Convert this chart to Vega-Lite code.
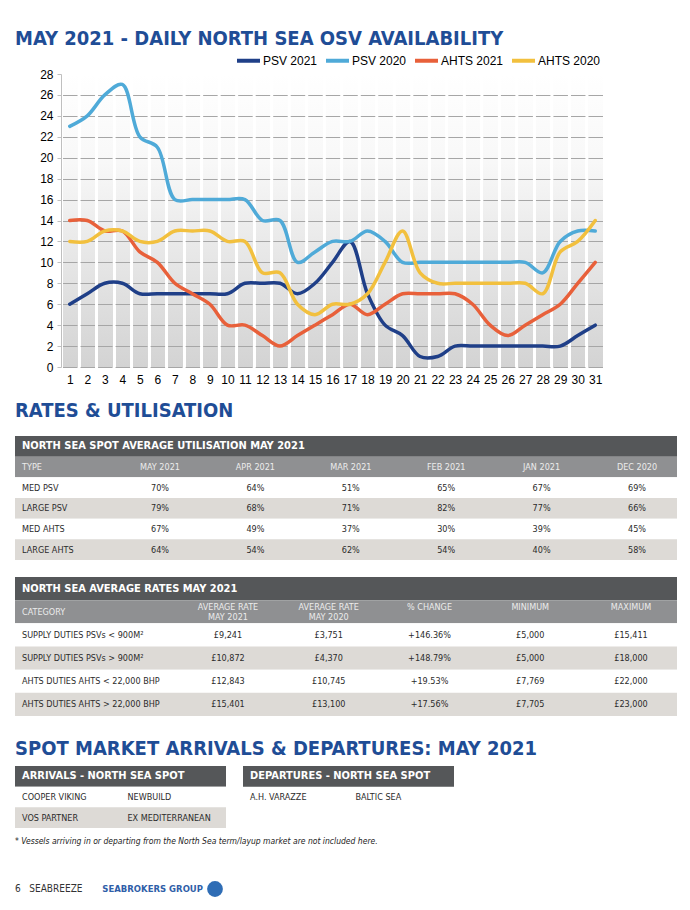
{
  "$schema": "https://vega.github.io/schema/vega-lite/v6.json",
  "background": "#ffffff",
  "padding": {"left": 15, "top": 29, "right": 0, "bottom": 0},
  "spacing": 16,
  "config": {"view": {"stroke": null}},
  "resolve": {"scale": {"x": "independent", "y": "independent", "color": "independent"}},
  "datasets": {
    "osv": [
      {"day":1,"series":"PSV 2021","value":6},{"day":2,"series":"PSV 2021","value":7},{"day":3,"series":"PSV 2021","value":8},{"day":4,"series":"PSV 2021","value":8},{"day":5,"series":"PSV 2021","value":7},{"day":6,"series":"PSV 2021","value":7},{"day":7,"series":"PSV 2021","value":7},{"day":8,"series":"PSV 2021","value":7},{"day":9,"series":"PSV 2021","value":7},{"day":10,"series":"PSV 2021","value":7},{"day":11,"series":"PSV 2021","value":8},{"day":12,"series":"PSV 2021","value":8},{"day":13,"series":"PSV 2021","value":8},{"day":14,"series":"PSV 2021","value":7},{"day":15,"series":"PSV 2021","value":8},{"day":16,"series":"PSV 2021","value":10},{"day":17,"series":"PSV 2021","value":12},{"day":18,"series":"PSV 2021","value":7},{"day":19,"series":"PSV 2021","value":4},{"day":20,"series":"PSV 2021","value":3},{"day":21,"series":"PSV 2021","value":1},{"day":22,"series":"PSV 2021","value":1},{"day":23,"series":"PSV 2021","value":2},{"day":24,"series":"PSV 2021","value":2},{"day":25,"series":"PSV 2021","value":2},{"day":26,"series":"PSV 2021","value":2},{"day":27,"series":"PSV 2021","value":2},{"day":28,"series":"PSV 2021","value":2},{"day":29,"series":"PSV 2021","value":2},{"day":30,"series":"PSV 2021","value":3},{"day":31,"series":"PSV 2021","value":4},
      {"day":1,"series":"PSV 2020","value":23},{"day":2,"series":"PSV 2020","value":24},{"day":3,"series":"PSV 2020","value":26},{"day":4,"series":"PSV 2020","value":27},{"day":5,"series":"PSV 2020","value":22},{"day":6,"series":"PSV 2020","value":21},{"day":7,"series":"PSV 2020","value":16},{"day":8,"series":"PSV 2020","value":16},{"day":9,"series":"PSV 2020","value":16},{"day":10,"series":"PSV 2020","value":16},{"day":11,"series":"PSV 2020","value":16},{"day":12,"series":"PSV 2020","value":14},{"day":13,"series":"PSV 2020","value":14},{"day":14,"series":"PSV 2020","value":10},{"day":15,"series":"PSV 2020","value":11},{"day":16,"series":"PSV 2020","value":12},{"day":17,"series":"PSV 2020","value":12},{"day":18,"series":"PSV 2020","value":13},{"day":19,"series":"PSV 2020","value":12},{"day":20,"series":"PSV 2020","value":10},{"day":21,"series":"PSV 2020","value":10},{"day":22,"series":"PSV 2020","value":10},{"day":23,"series":"PSV 2020","value":10},{"day":24,"series":"PSV 2020","value":10},{"day":25,"series":"PSV 2020","value":10},{"day":26,"series":"PSV 2020","value":10},{"day":27,"series":"PSV 2020","value":10},{"day":28,"series":"PSV 2020","value":9},{"day":29,"series":"PSV 2020","value":12},{"day":30,"series":"PSV 2020","value":13},{"day":31,"series":"PSV 2020","value":13},
      {"day":1,"series":"AHTS 2021","value":14},{"day":2,"series":"AHTS 2021","value":14},{"day":3,"series":"AHTS 2021","value":13},{"day":4,"series":"AHTS 2021","value":13},{"day":5,"series":"AHTS 2021","value":11},{"day":6,"series":"AHTS 2021","value":10},{"day":7,"series":"AHTS 2021","value":8},{"day":8,"series":"AHTS 2021","value":7},{"day":9,"series":"AHTS 2021","value":6},{"day":10,"series":"AHTS 2021","value":4},{"day":11,"series":"AHTS 2021","value":4},{"day":12,"series":"AHTS 2021","value":3},{"day":13,"series":"AHTS 2021","value":2},{"day":14,"series":"AHTS 2021","value":3},{"day":15,"series":"AHTS 2021","value":4},{"day":16,"series":"AHTS 2021","value":5},{"day":17,"series":"AHTS 2021","value":6},{"day":18,"series":"AHTS 2021","value":5},{"day":19,"series":"AHTS 2021","value":6},{"day":20,"series":"AHTS 2021","value":7},{"day":21,"series":"AHTS 2021","value":7},{"day":22,"series":"AHTS 2021","value":7},{"day":23,"series":"AHTS 2021","value":7},{"day":24,"series":"AHTS 2021","value":6},{"day":25,"series":"AHTS 2021","value":4},{"day":26,"series":"AHTS 2021","value":3},{"day":27,"series":"AHTS 2021","value":4},{"day":28,"series":"AHTS 2021","value":5},{"day":29,"series":"AHTS 2021","value":6},{"day":30,"series":"AHTS 2021","value":8},{"day":31,"series":"AHTS 2021","value":10},
      {"day":1,"series":"AHTS 2020","value":12},{"day":2,"series":"AHTS 2020","value":12},{"day":3,"series":"AHTS 2020","value":13},{"day":4,"series":"AHTS 2020","value":13},{"day":5,"series":"AHTS 2020","value":12},{"day":6,"series":"AHTS 2020","value":12},{"day":7,"series":"AHTS 2020","value":13},{"day":8,"series":"AHTS 2020","value":13},{"day":9,"series":"AHTS 2020","value":13},{"day":10,"series":"AHTS 2020","value":12},{"day":11,"series":"AHTS 2020","value":12},{"day":12,"series":"AHTS 2020","value":9},{"day":13,"series":"AHTS 2020","value":9},{"day":14,"series":"AHTS 2020","value":6},{"day":15,"series":"AHTS 2020","value":5},{"day":16,"series":"AHTS 2020","value":6},{"day":17,"series":"AHTS 2020","value":6},{"day":18,"series":"AHTS 2020","value":7},{"day":19,"series":"AHTS 2020","value":10},{"day":20,"series":"AHTS 2020","value":13},{"day":21,"series":"AHTS 2020","value":9},{"day":22,"series":"AHTS 2020","value":8},{"day":23,"series":"AHTS 2020","value":8},{"day":24,"series":"AHTS 2020","value":8},{"day":25,"series":"AHTS 2020","value":8},{"day":26,"series":"AHTS 2020","value":8},{"day":27,"series":"AHTS 2020","value":8},{"day":28,"series":"AHTS 2020","value":7},{"day":29,"series":"AHTS 2020","value":11},{"day":30,"series":"AHTS 2020","value":12},{"day":31,"series":"AHTS 2020","value":14}
    ],
    "util": [
      {"row":"title","type":"NORTH SEA SPOT AVERAGE UTILISATION MAY 2021"},
      {"row":"header","type":"TYPE","may21":"MAY 2021","apr21":"APR 2021","mar21":"MAR 2021","feb21":"FEB 2021","jan21":"JAN 2021","dec20":"DEC 2020"},
      {"row":"r1","type":"MED PSV","may21":"70%","apr21":"64%","mar21":"51%","feb21":"65%","jan21":"67%","dec20":"69%"},
      {"row":"r2","type":"LARGE PSV","may21":"79%","apr21":"68%","mar21":"71%","feb21":"82%","jan21":"77%","dec20":"66%"},
      {"row":"r3","type":"MED AHTS","may21":"67%","apr21":"49%","mar21":"37%","feb21":"30%","jan21":"39%","dec20":"45%"},
      {"row":"r4","type":"LARGE AHTS","may21":"64%","apr21":"54%","mar21":"62%","feb21":"54%","jan21":"40%","dec20":"58%"}
    ],
    "rates": [
      {"row":"title","category":"NORTH SEA AVERAGE RATES MAY 2021"},
      {"row":"header","category":"CATEGORY","avg21":"AVERAGE RATE\nMAY 2021","avg20":"AVERAGE RATE\nMAY 2020","change":"% CHANGE","minimum":"MINIMUM","maximum":"MAXIMUM"},
      {"row":"r1","category":"SUPPLY DUTIES PSVs < 900M²","avg21":"£9,241","avg20":"£3,751","change":"+146.36%","minimum":"£5,000","maximum":"£15,411"},
      {"row":"r2","category":"SUPPLY DUTIES PSVs > 900M²","avg21":"£10,872","avg20":"£4,370","change":"+148.79%","minimum":"£5,000","maximum":"£18,000"},
      {"row":"r3","category":"AHTS DUTIES AHTS < 22,000 BHP","avg21":"£12,843","avg20":"£10,745","change":"+19.53%","minimum":"£7,769","maximum":"£22,000"},
      {"row":"r4","category":"AHTS DUTIES AHTS > 22,000 BHP","avg21":"£15,401","avg20":"£13,100","change":"+17.56%","minimum":"£7,705","maximum":"£23,000"}
    ],
    "arrivals": [
      {"row":"title","vessel":"ARRIVALS - NORTH SEA SPOT"},
      {"row":"r1","vessel":"COOPER VIKING","note":"NEWBUILD"},
      {"row":"r2","vessel":"VOS PARTNER","note":"EX MEDITERRANEAN"}
    ],
    "departures": [
      {"row":"title","vessel":"DEPARTURES - NORTH SEA SPOT"},
      {"row":"r1","vessel":"A.H. VARAZZE","note":"BALTIC SEA"}
    ],
    "footer": [
      {"part":"page","label":"6\u00a0\u00a0\u00a0SEABREEZE"},
      {"part":"logo","label":"SEABROKERS GROUP"}
    ]
  },
  "vconcat": [
    {
      "title": {"text": "MAY 2021 - DAILY NORTH SEA OSV AVAILABILITY", "anchor": "start", "font": "DejaVu Sans Condensed, Liberation Sans Narrow, sans-serif", "fontSize": 20, "fontWeight": "bold", "color": "#1f4d96", "offset": -2},
      "spacing": 10,
      "hconcat": [
        {
          "width": 14,
          "height": 293,
          "data": {"values": [{}]},
          "mark": {"type": "rect", "opacity": 0},
          "encoding": {}
        },
        {
          "width": 543,
          "height": 293,
          "view": {"stroke": null, "fill": {"gradient": "linear", "x1": 0, "y1": 0, "x2": 0, "y2": 1, "stops": [{"offset": 0, "color": "#ffffff"}, {"offset": 0.3, "color": "#f8f8f8"}, {"offset": 1, "color": "#d3d3d3"}]}},
          "data": {"name": "osv"},
          "mark": {"type": "line", "interpolate": "catmull-rom", "strokeWidth": 3.5, "strokeCap": "round", "strokeJoin": "round"},
          "encoding": {
            "x": {"field": "day", "type": "ordinal", "scale": {"type": "band", "paddingInner": 0, "paddingOuter": 0},
                  "axis": {"title": null, "labelAngle": 0, "tickBand": "extent", "ticks": false, "domain": false, "grid": true, "gridColor": "#ffffff", "gridWidth": 3, "gridOpacity": 1, "labelPadding": 7, "labelFont": "Liberation Sans", "labelFontSize": 12, "labelColor": "#000000"}},
            "y": {"field": "value", "type": "quantitative", "scale": {"domain": [0, 28], "nice": false},
                  "axis": {"title": null, "values": [0,2,4,6,8,10,12,14,16,18,20,22,24,26,28], "grid": true, "gridColor": "#a6a6a6", "gridWidth": 1, "gridOpacity": {"condition": {"test": "datum.value == 28", "value": 0}, "value": 1}, "gridDash": [14.5, 3.016], "gridDashOffset": 16, "domain": true, "domainColor": "#bfbfbf", "ticks": true, "tickSize": 4, "tickColor": "#bfbfbf", "labelPadding": 4, "labelFont": "Liberation Sans", "labelFontSize": 12, "labelColor": "#000000"}},
            "color": {"field": "series", "type": "nominal",
                      "scale": {"domain": ["PSV 2021", "PSV 2020", "AHTS 2021", "AHTS 2020"], "range": ["#1f3f88", "#4faad8", "#e8603a", "#f2c03e"]},
                      "legend": {"orient": "none", "legendX": 220, "legendY": -27, "direction": "horizontal", "title": null, "symbolType": "stroke", "symbolStrokeWidth": 4, "symbolSize": 529, "labelFont": "Liberation Sans", "labelFontSize": 12, "labelColor": "#000000", "columnPadding": 0, "labelOffset": 1}}
          }
        }
      ]
    },
    {
      "width": 662,
      "height": 124,
      "title": {"text": "RATES & UTILISATION", "anchor": "start", "font": "DejaVu Sans Condensed, Liberation Sans Narrow, sans-serif", "fontSize": 20, "fontWeight": "bold", "color": "#1f4d96", "offset": 15},
      "data": {"name": "util"},
      "transform": [{"fold": ["type", "may21", "apr21", "mar21", "feb21", "jan21", "dec20"], "as": ["col", "v"]}, {"filter": "isValid(datum.v)"}],
      "encoding": {
        "y": {"field": "row", "type": "nominal", "scale": {"domain": ["title", "header", "r1", "r2", "r3", "r4"], "paddingInner": 0, "paddingOuter": 0}, "axis": null}
      },
      "layer": [
        {"transform": [{"filter": "datum.col == 'type'"}], "mark": {"type": "rect"},
         "encoding": {"color": {"condition": [{"test": "datum.row == 'title'", "value": "#555759"}, {"test": "datum.row == 'header'", "value": "#8f9092"}, {"test": "datum.row == 'r2' || datum.row == 'r4'", "value": "#dddad6"}], "value": "#ffffff"}}},
        {"transform": [{"filter": "datum.row == 'title'"}], "mark": {"type": "text", "align": "left", "dx": -42.6, "font": "DejaVu Sans Condensed, Liberation Sans Narrow, sans-serif", "fontSize": 11, "fontWeight": "bold", "color": "#ffffff"},
         "encoding": {"x": {"field": "col", "type": "nominal", "scale": {"type": "point", "domain": ["type", "may21", "apr21", "mar21", "feb21", "jan21", "dec20"], "padding": 0.4696, "align": 0.5536}, "axis": null}, "text": {"field": "v"}}},
        {"transform": [{"filter": "datum.row != 'title' && datum.col == 'type'"}], "mark": {"type": "text", "align": "left", "dx": -42.6, "font": "DejaVu Sans Condensed, Liberation Sans Narrow, sans-serif", "fontSize": 9},
         "encoding": {"x": {"field": "col", "type": "nominal", "scale": {"type": "point", "domain": ["type", "may21", "apr21", "mar21", "feb21", "jan21", "dec20"], "padding": 0.4696, "align": 0.5536}, "axis": null}, "text": {"field": "v"},
                      "color": {"condition": {"test": "datum.row == 'header'", "value": "#ececec"}, "value": "#2b2b2b"}}},
        {"transform": [{"filter": "datum.col != 'type'"}], "mark": {"type": "text", "font": "DejaVu Sans Condensed, Liberation Sans Narrow, sans-serif", "fontSize": 9},
         "encoding": {"x": {"field": "col", "type": "nominal", "scale": {"type": "point", "domain": ["type", "may21", "apr21", "mar21", "feb21", "jan21", "dec20"], "padding": 0.4696, "align": 0.5536}, "axis": null}, "text": {"field": "v"},
                      "color": {"condition": {"test": "datum.row == 'header'", "value": "#ececec"}, "value": "#2b2b2b"}}}
      ]
    },
    {
      "width": 662,
      "height": 146,
      "data": {"name": "rates"},
      "transform": [{"fold": ["category", "avg21", "avg20", "change", "minimum", "maximum"], "as": ["col", "v"]}, {"filter": "isValid(datum.v)"}],
      "encoding": {
        "y": {"field": "row", "type": "nominal", "scale": {"type": "band", "domain": ["title", "header", "r1", "r2", "r3", "r4"], "paddingInner": 0, "paddingOuter": 0.151, "align": 0}, "axis": null}
      },
      "layer": [
        {"transform": [{"filter": "datum.col == 'category'"}], "mark": {"type": "rect"},
         "encoding": {"color": {"condition": [{"test": "datum.row == 'title'", "value": "#555759"}, {"test": "datum.row == 'header'", "value": "#8f9092"}, {"test": "datum.row == 'r2' || datum.row == 'r4'", "value": "#dddad6"}], "value": "#ffffff"}}},
        {"transform": [{"filter": "datum.row == 'title'"}], "mark": {"type": "text", "align": "left", "dx": -105.25, "font": "DejaVu Sans Condensed, Liberation Sans Narrow, sans-serif", "fontSize": 11, "fontWeight": "bold", "color": "#ffffff"},
         "encoding": {"x": {"field": "col", "type": "nominal", "scale": {"type": "point", "domain": ["category", "avg21", "avg20", "change", "minimum", "maximum"], "padding": 0.7854, "align": 0.7093}, "axis": null}, "text": {"field": "v"}}},
        {"transform": [{"filter": "datum.row != 'title' && datum.col == 'category'"}], "mark": {"type": "text", "align": "left", "dx": -105.25, "font": "DejaVu Sans Condensed, Liberation Sans Narrow, sans-serif", "fontSize": 9},
         "encoding": {"x": {"field": "col", "type": "nominal", "scale": {"type": "point", "domain": ["category", "avg21", "avg20", "change", "minimum", "maximum"], "padding": 0.7854, "align": 0.7093}, "axis": null}, "text": {"field": "v"},
                      "color": {"condition": {"test": "datum.row == 'header'", "value": "#ececec"}, "value": "#2b2b2b"}}},
        {"transform": [{"filter": "datum.row == 'header' && datum.col != 'category'"}], "mark": {"type": "text", "font": "DejaVu Sans Condensed, Liberation Sans Narrow, sans-serif", "fontSize": 9, "lineBreak": "\n", "lineHeight": 10.5, "dy": -5, "color": "#ececec"},
         "encoding": {"x": {"field": "col", "type": "nominal", "scale": {"type": "point", "domain": ["category", "avg21", "avg20", "change", "minimum", "maximum"], "padding": 0.7854, "align": 0.7093}, "axis": null}, "text": {"field": "v"}}},
        {"transform": [{"filter": "datum.row != 'header' && datum.row != 'title' && datum.col != 'category'"}], "mark": {"type": "text", "font": "DejaVu Sans Condensed, Liberation Sans Narrow, sans-serif", "fontSize": 9, "color": "#2b2b2b"},
         "encoding": {"x": {"field": "col", "type": "nominal", "scale": {"type": "point", "domain": ["category", "avg21", "avg20", "change", "minimum", "maximum"], "padding": 0.7854, "align": 0.7093}, "axis": null}, "text": {"field": "v"}}}
      ]
    },
    {
      "title": {"text": "SPOT MARKET ARRIVALS & DEPARTURES: MAY 2021", "anchor": "start", "font": "DejaVu Sans Condensed, Liberation Sans Narrow, sans-serif", "fontSize": 20, "fontWeight": "bold", "color": "#1f4d96", "offset": 7},
      "bounds": "flush",
      "spacing": 17,
      "resolve": {"scale": {"x": "independent", "y": "independent"}},
      "hconcat": [
        {
          "width": 211,
          "height": 62,
          "title": {"text": "* Vessels arriving in or departing from the North Sea term/layup market are not included here.", "orient": "bottom", "anchor": "start", "font": "DejaVu Sans Condensed, Liberation Sans Narrow, sans-serif", "fontSize": 8.5, "fontStyle": "italic", "fontWeight": "normal", "color": "#222222", "offset": 9},
          "data": {"name": "arrivals"},
          "transform": [{"fold": ["vessel", "note"], "as": ["col", "v"]}, {"filter": "isValid(datum.v)"}],
          "encoding": {
            "y": {"field": "row", "type": "nominal", "scale": {"domain": ["title", "r1", "r2"], "paddingInner": 0, "paddingOuter": 0}, "axis": null}
          },
          "layer": [
            {"transform": [{"filter": "datum.col == 'vessel'"}], "mark": {"type": "rect"},
             "encoding": {"color": {"condition": [{"test": "datum.row == 'title'", "value": "#555759"}, {"test": "datum.row == 'r2'", "value": "#dddad6"}], "value": "#ffffff"}}},
            {"transform": [{"filter": "datum.row == 'title'"}], "mark": {"type": "text", "align": "left", "dx": -45.75, "font": "DejaVu Sans Condensed, Liberation Sans Narrow, sans-serif", "fontSize": 11, "fontWeight": "bold", "color": "#ffffff"},
             "encoding": {"x": {"field": "col", "type": "nominal", "scale": {"type": "point", "domain": ["vessel", "note"], "padding": 0.5}, "axis": null}, "text": {"field": "v"}}},
            {"transform": [{"filter": "datum.row != 'title'"}], "mark": {"type": "text", "align": "left", "dx": -45.75, "font": "DejaVu Sans Condensed, Liberation Sans Narrow, sans-serif", "fontSize": 9, "color": "#2b2b2b"},
             "encoding": {"x": {"field": "col", "type": "nominal", "scale": {"type": "point", "domain": ["vessel", "note"], "padding": 0.5}, "axis": null}, "text": {"field": "v"}}}
          ]
        },
        {
          "width": 211,
          "height": 62,
          "data": {"name": "departures"},
          "transform": [{"fold": ["vessel", "note"], "as": ["col", "v"]}, {"filter": "isValid(datum.v)"}],
          "encoding": {
            "y": {"field": "row", "type": "nominal", "scale": {"domain": ["title", "r1", "r2"], "paddingInner": 0, "paddingOuter": 0}, "axis": null}
          },
          "layer": [
            {"transform": [{"filter": "datum.col == 'vessel' && datum.row == 'title'"}], "mark": {"type": "rect", "color": "#555759"}, "encoding": {}},
            {"transform": [{"filter": "datum.row == 'title'"}], "mark": {"type": "text", "align": "left", "dx": -45.75, "font": "DejaVu Sans Condensed, Liberation Sans Narrow, sans-serif", "fontSize": 11, "fontWeight": "bold", "color": "#ffffff"},
             "encoding": {"x": {"field": "col", "type": "nominal", "scale": {"type": "point", "domain": ["vessel", "note"], "padding": 0.5}, "axis": null}, "text": {"field": "v"}}},
            {"transform": [{"filter": "datum.row != 'title'"}], "mark": {"type": "text", "align": "left", "dx": -45.75, "font": "DejaVu Sans Condensed, Liberation Sans Narrow, sans-serif", "fontSize": 9, "color": "#2b2b2b"},
             "encoding": {"x": {"field": "col", "type": "nominal", "scale": {"type": "point", "domain": ["vessel", "note"], "padding": 0.5}, "axis": null}, "text": {"field": "v"}}}
          ]
        }
      ]
    },
    {
      "width": 210,
      "height": 54,
      "data": {"name": "footer"},
      "layer": [
        {"transform": [{"filter": "datum.part == 'page'"}], "mark": {"type": "text", "align": "left", "dx": -52.5, "font": "DejaVu Sans Condensed, Liberation Sans Narrow, sans-serif", "fontSize": 10, "color": "#333333"},
         "encoding": {"x": {"field": "part", "type": "nominal", "scale": {"type": "point", "domain": ["page", "logo"], "padding": 0.5}, "axis": null}, "text": {"field": "label"}}},
        {"transform": [{"filter": "datum.part == 'logo'"}], "mark": {"type": "text", "align": "right", "dx": 30.5, "font": "DejaVu Sans", "fontSize": 8.5, "fontWeight": "bold", "color": "#2f5ea8"},
         "encoding": {"x": {"field": "part", "type": "nominal", "scale": {"type": "point", "domain": ["page", "logo"], "padding": 0.5}, "axis": null}, "text": {"field": "label"}}},
        {"transform": [{"filter": "datum.part == 'logo'"}], "mark": {"type": "point", "filled": true, "color": "#2f6db5", "size": 250, "opacity": 1, "xOffset": 42.5},
         "encoding": {"x": {"field": "part", "type": "nominal", "scale": {"type": "point", "domain": ["page", "logo"], "padding": 0.5}, "axis": null}}}
      ]
    }
  ]
}
